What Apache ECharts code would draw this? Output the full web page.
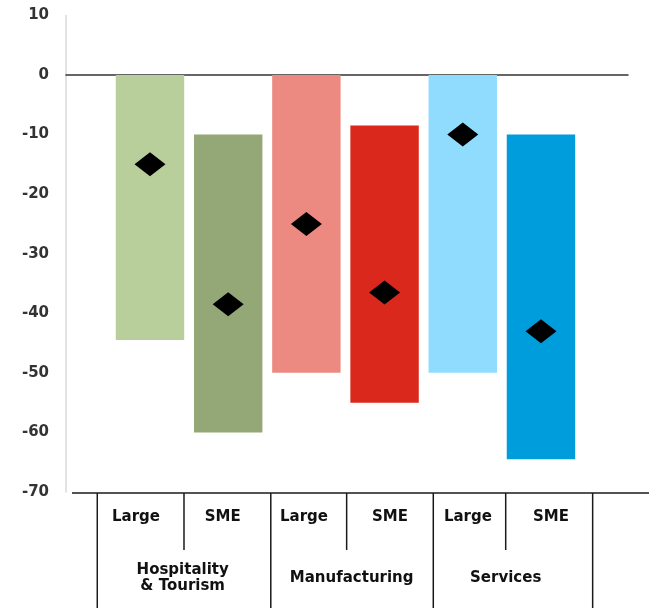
<!DOCTYPE html>
<html>
<head>
<meta charset="utf-8">
<script src="https://cdn.jsdelivr.net/npm/echarts@6/dist/echarts.min.js"></script>
<style>
  html, body { margin: 0; padding: 0; background: #ffffff; }
  #chart { width: 649px; height: 608px; }
</style>
</head>
<body>
<div id="chart"></div>
<script>
// Firm size within each sector, and the sectors they belong to
const sizeLabels = ['Large', 'SME', 'Large', 'SME', 'Large', 'SME'];
const sectorLabels = ['Hospitality\n& Tourism', 'Manufacturing', 'Services'];

// Range of outcomes (top and bottom of each bar) and the central estimate (diamond)
const rangeHigh = [0, -10, 0, -8.5, 0, -10];
const rangeLow = [-44.5, -60, -50, -55, -50, -64.5];
const centralValue = [-15, -38.5, -25, -36.5, -10, -43];

// Y axis scale
const yMin = -70;
const yMax = 10;
const yStep = 10;

const barColors = ['#b8cf9b', '#93a777', '#ec8a82', '#da291c', '#8fdcff', '#009ddc'];

// Table under the plot, in x-axis units (bar i sits at x = i)
const tableLayout = {
  longRules: [-0.674, 1.545, 3.623, 5.661],
  shortRules: [0.435, 2.515, 4.549],
  sizeLabelX: [-0.179, 0.93, 1.969, 3.069, 4.066, 5.128],
  sectorLabelX: [0.418, 2.579, 4.549]
};

const FONT = 'DejaVu Sans';
const chart = echarts.init(document.getElementById('chart'), null, { renderer: 'canvas' });

const rangeData = rangeHigh.map((h, i) => [i, rangeLow[i], h]);
const centralData = centralValue.map((v, i) => [i, v]);

chart.setOption({
  animation: false,
  backgroundColor: '#ffffff',
  grid: { left: 66, right: 21, top: 15.4, bottom: 116, containLabel: false },
  xAxis: {
    type: 'value',
    min: -1.074,
    max: 6.113,
    axisLine: { show: true, onZero: true, lineStyle: { color: '#333333', width: 1.5 } },
    axisTick: { show: false },
    axisLabel: { show: false },
    splitLine: { show: false }
  },
  yAxis: {
    type: 'value',
    min: yMin,
    max: yMax,
    interval: yStep,
    axisLine: { show: true, onZero: false, lineStyle: { color: '#d9d9d9', width: 1.5 } },
    axisTick: { show: false },
    splitLine: { show: false },
    axisLabel: {
      margin: 17,
      color: '#333333',
      fontFamily: FONT,
      fontWeight: 'bold',
      fontSize: 15
    }
  },
  series: [
    {
      type: 'custom',
      data: rangeData,
      encode: { x: 0, y: [1, 2] },
      z: 2,
      renderItem: function (params, api) {
        const i = api.value(0);
        const top = api.coord([i, api.value(2)]);
        const bottom = api.coord([i, api.value(1)]);
        const w = api.size([0.875, 0])[0];
        return {
          type: 'rect',
          shape: { x: top[0] - w / 2, y: top[1], width: w, height: bottom[1] - top[1] },
          style: { fill: barColors[params.dataIndex] }
        };
      }
    },
    {
      type: 'scatter',
      data: centralData,
      symbol: 'diamond',
      symbolSize: [31, 24],
      itemStyle: { color: '#000000', opacity: 1 },
      z: 5
    }
  ]
});

function px(x) {
  return chart.convertToPixel({ xAxisIndex: 0 }, x);
}
const axisBottom = chart.convertToPixel({ yAxisIndex: 0 }, yMin) + 1;
const H = 608;
const ruleStyle = { stroke: '#1a1a1a', lineWidth: 1.5 };
const graphics = [];

graphics.push({
  type: 'line',
  shape: { x1: px(-0.997), y1: axisBottom, x2: 649, y2: axisBottom },
  style: ruleStyle
});
tableLayout.longRules.forEach(x => {
  graphics.push({ type: 'line', shape: { x1: px(x), y1: axisBottom, x2: px(x), y2: H }, style: ruleStyle });
});
tableLayout.shortRules.forEach(x => {
  graphics.push({ type: 'line', shape: { x1: px(x), y1: axisBottom, x2: px(x), y2: axisBottom + 57 }, style: ruleStyle });
});
sizeLabels.forEach((t, i) => {
  graphics.push({
    type: 'text',
    x: px(tableLayout.sizeLabelX[i]),
    y: axisBottom + 24,
    style: {
      text: t, fill: '#111111', font: 'bold 15px "' + FONT + '"',
      align: 'center', verticalAlign: 'middle'
    }
  });
});
sectorLabels.forEach((t, i) => {
  graphics.push({
    type: 'text',
    x: px(tableLayout.sectorLabelX[i]),
    y: axisBottom + 85,
    style: {
      text: t, fill: '#111111', font: 'bold 15px "' + FONT + '"',
      lineHeight: 16, align: 'center', verticalAlign: 'middle'
    }
  });
});

chart.setOption({ graphic: graphics });
</script>
</body>
</html>
